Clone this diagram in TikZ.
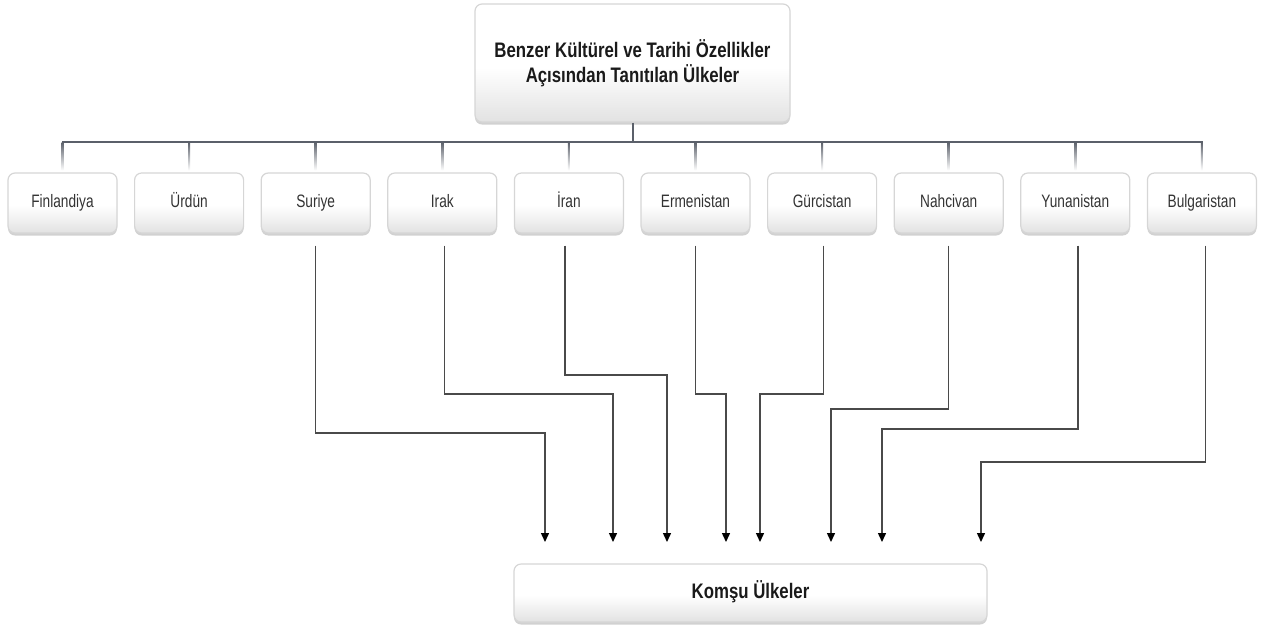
\documentclass[tikz,border=0pt]{standalone}
\usepackage{fontspec}
\newfontfamily\titlefont[FakeStretch=0.8]{Liberation Sans}
\newfontfamily\boxfont[FakeStretch=0.76]{Liberation Sans}
\usetikzlibrary{arrows.meta,shadows,calc}
\definecolor{boxborder}{HTML}{D6D6D6}
\definecolor{boxbottom}{HTML}{E2E2E2}
\definecolor{busgray}{HTML}{5B606A}
\definecolor{linegray}{HTML}{4A4A4A}
\definecolor{textdark}{HTML}{1A1A1A}
\definecolor{textgray}{HTML}{333333}
\pgfdeclareverticalshading{cardshade}{100bp}{color(0bp)=(boxbottom); color(25bp)=(boxbottom); color(48bp)=(white); color(100bp)=(white)}
\begin{document}
\begin{tikzpicture}[x=1pt,y=-1pt,
  card/.style={draw=boxborder, line width=1.2pt, rounded corners=7pt,
    shading=cardshade, inner sep=0pt,
    drop shadow={shadow xshift=0pt, shadow yshift=-2.5pt, opacity=0.18, fill=black}},
  titlebox/.style={card, align=center, text=textdark,
    font=\titlefont\bfseries\fontsize{21}{25}\selectfont},
  countrybox/.style={card, minimum width=109, minimum height=60, text=textgray,
    text height=13pt, text depth=4pt,
    font=\boxfont\fontsize{18}{21}\selectfont},
  busline/.style={draw=busgray, line width=2pt},
  conn/.style={draw=linegray, line width=1.4pt,
    -{Triangle[width=8pt,length=9pt,color=black]}}
]
\useasboundingbox (0,0) rectangle (1261,625);

% top node
\node[titlebox, minimum width=315, minimum height=118] (top) at (632.5,63)
  {Benzer Kültürel ve Tarihi Özellikler\\Açısından Tanıtılan Ülkeler};

% country nodes
\node[countrybox] (fin) at (62.5,203) {Finlandiya};
\node[countrybox] (urd) at (189.1,203) {Ürdün};
\node[countrybox] (sur) at (315.7,203) {Suriye};
\node[countrybox] (irk) at (442.3,203) {Irak};
\node[countrybox] (irn) at (568.9,203) {İran};
\node[countrybox] (erm) at (695.5,203) {Ermenistan};
\node[countrybox] (gur) at (822.1,203) {Gürcistan};
\node[countrybox] (nah) at (948.7,203) {Nahcivan};
\node[countrybox] (yun) at (1075.3,203) {Yunanistan};
\node[countrybox] (bul) at (1201.9,203) {Bulgaristan};

% bottom node
\node[titlebox, minimum width=473, minimum height=58, text height=15pt, text depth=4pt] (kom) at (750.5,593) {Komşu Ülkeler};

% bus
\coordinate (busy) at (0,142);
\draw[busline] (top.south) -- (top.south |- busy);
\draw[busline, line cap=rect] (fin.north |- busy) -- (bul.north |- busy);
\foreach \n in {fin,urd,sur,irk,irn,erm,gur,nah,yun,bul}{
  \shade[top color=busgray, bottom color=white]
    ($(\n.north |- busy)+(-1,0)$) rectangle ($(\n.north)+(1,-2)$);
}

% arrow end points
\coordinate (a1) at (545,542);
\coordinate (a2) at (613,542);
\coordinate (a3) at (667,542);
\coordinate (a4) at (726,542);
\coordinate (a5) at (760,542);
\coordinate (a6) at (831,542);
\coordinate (a7) at (882,542);
\coordinate (a8) at (981,542);

% connectors
\draw[conn] ($(sur.south)+(0,12)$) |- (a1 |- 0,433) -- (a1);
\draw[conn] ($(irk.south)+(2,12)$) |- (a2 |- 0,394) -- (a2);
\draw[conn] ($(irn.south)+(-4,12)$) |- (a3 |- 0,375) -- (a3);
\draw[conn] ($(erm.south)+(0,12)$) |- (a4 |- 0,394) -- (a4);
\draw[conn] ($(gur.south)+(1.5,12)$) |- (a5 |- 0,394) -- (a5);
\draw[conn] ($(nah.south)+(0,12)$) |- (a6 |- 0,409) -- (a6);
\draw[conn] ($(yun.south)+(2.5,12)$) |- (a7 |- 0,429) -- (a7);
\draw[conn] ($(bul.south)+(3.5,12)$) |- (a8 |- 0,462) -- (a8);
\end{tikzpicture}
\end{document}
